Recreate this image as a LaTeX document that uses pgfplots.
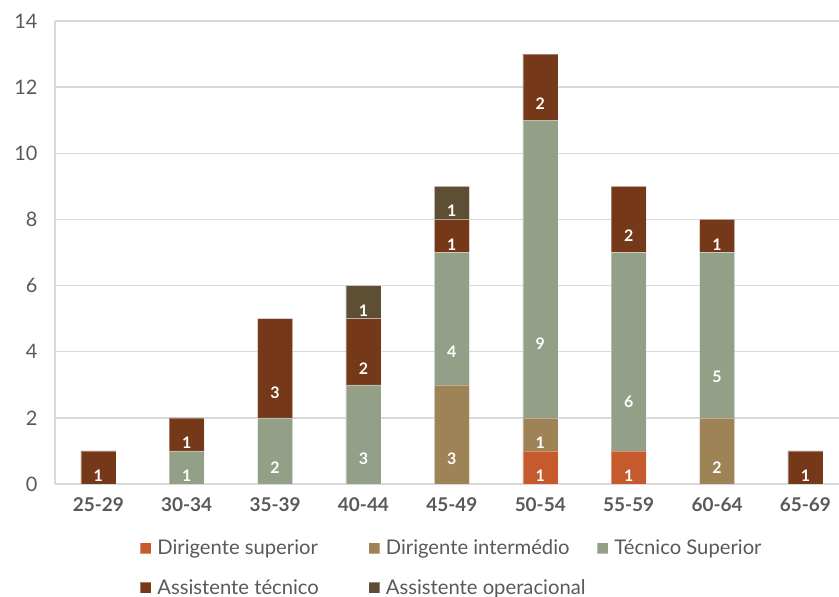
\documentclass[border=0pt]{standalone}
\usepackage{fontspec}
\setmainfont{Lato}
\usepackage{pgfplots}
\usepackage{pgfplotstable}
\pgfplotsset{compat=1.18}

\definecolor{dirsup}{RGB}{197,90,45}
\definecolor{dirint}{RGB}{158,131,86}
\definecolor{tecsup}{RGB}{148,159,135}
\definecolor{asstec}{RGB}{117,57,26}
\definecolor{assop}{RGB}{94,78,51}
\definecolor{gridgray}{RGB}{217,217,217}
\definecolor{txtgray}{RGB}{89,89,89}

% staff counts per age group and career
\pgfplotstableread{
x sup int tec ast op
0 0 0 0 1 0
1 0 0 1 1 0
2 0 0 2 3 0
3 0 0 3 2 1
4 0 3 4 1 1
5 1 1 9 2 0
6 1 0 6 2 0
7 0 2 5 1 0
8 0 0 0 1 0
}\agedata

% shift that brings a label from the top of its segment to the middle
% (the node style is applied twice, hence a quarter of the height per pass)
\tikzset{half segment/.code={%
  \pgfkeys{/pgf/fpu=true,/pgf/fpu/output format=fixed}%
  \pgfmathsetmacro\halfseg{0.25*\pgfplotspointmeta*463/14}%
  \pgfkeys{/pgf/fpu=false}}}

\newcommand{\entry}[1]{\makebox[213bp][l]{\hspace{4bp}#1}}

\begin{document}
\begin{tikzpicture}
\useasboundingbox (0,0) rectangle (839bp,597bp);
\begin{axis}[
  at={(55bp,113bp)}, anchor=south west,
  scale only axis, width=784bp, height=463bp,
  xmin=-0.49, xmax=8.38, ymin=0, ymax=14,
  ybar stacked, bar width=35bp,
  xtick={0,...,8},
  xticklabels={25-29,30-34,35-39,40-44,45-49,50-54,55-59,60-64,65-69},
  ytick={0,2,...,14},
  axis lines*=left,
  axis line style={gridgray, line width=1.3bp},
  ymajorgrids, grid style={gridgray, line width=1.3bp},
  major tick length=0pt,
  /pgf/number format/assume math mode=true,
  yticklabel style={font=\fontsize{20}{24}\selectfont, text=txtgray, xshift=-14bp},
  xticklabel style={font=\fontsize{19}{23}\selectfont\bfseries, text=txtgray, yshift=-10bp},
  legend columns=3,
  legend style={at={(0.108,-0.116)}, anchor=north west, draw=none, fill=none,
    inner sep=0pt, font=\fontsize{20.3}{24}\selectfont, text=txtgray,
    /tikz/row sep=19bp},
  legend cell align=left,
  legend image code/.code={\fill[#1] (0bp,-5.5bp) rectangle (11bp,5.5bp);},
  every axis plot/.append style={draw=white, draw opacity=0.35, line width=0.5bp},
  nodes near coords={\pgfmathfloatifflags{\pgfplotspointmeta}{0}{}{\pgfmathprintnumber{\pgfplotspointmeta}}},
  every node near coord/.append style={font=\fontsize{16}{19}\selectfont\bfseries,
    text=white, anchor=center, half segment, yshift=-\halfseg bp},
]
\addplot[fill=dirsup] table[x=x,y=sup] {\agedata};
\addlegendentry{\entry{Dirigente superior}}
\addplot[fill=dirint] table[x=x,y=int] {\agedata};
\addlegendentry{\entry{Dirigente intermédio}}
\addplot[fill=tecsup] table[x=x,y=tec] {\agedata};
\addlegendentry{\entry{Técnico Superior}}
\addplot[fill=asstec] table[x=x,y=ast] {\agedata};
\addlegendentry{\entry{Assistente técnico}}
\addplot[fill=assop] table[x=x,y=op] {\agedata};
\addlegendentry{\entry{Assistente operacional}}
\end{axis}
\end{tikzpicture}
\end{document}
